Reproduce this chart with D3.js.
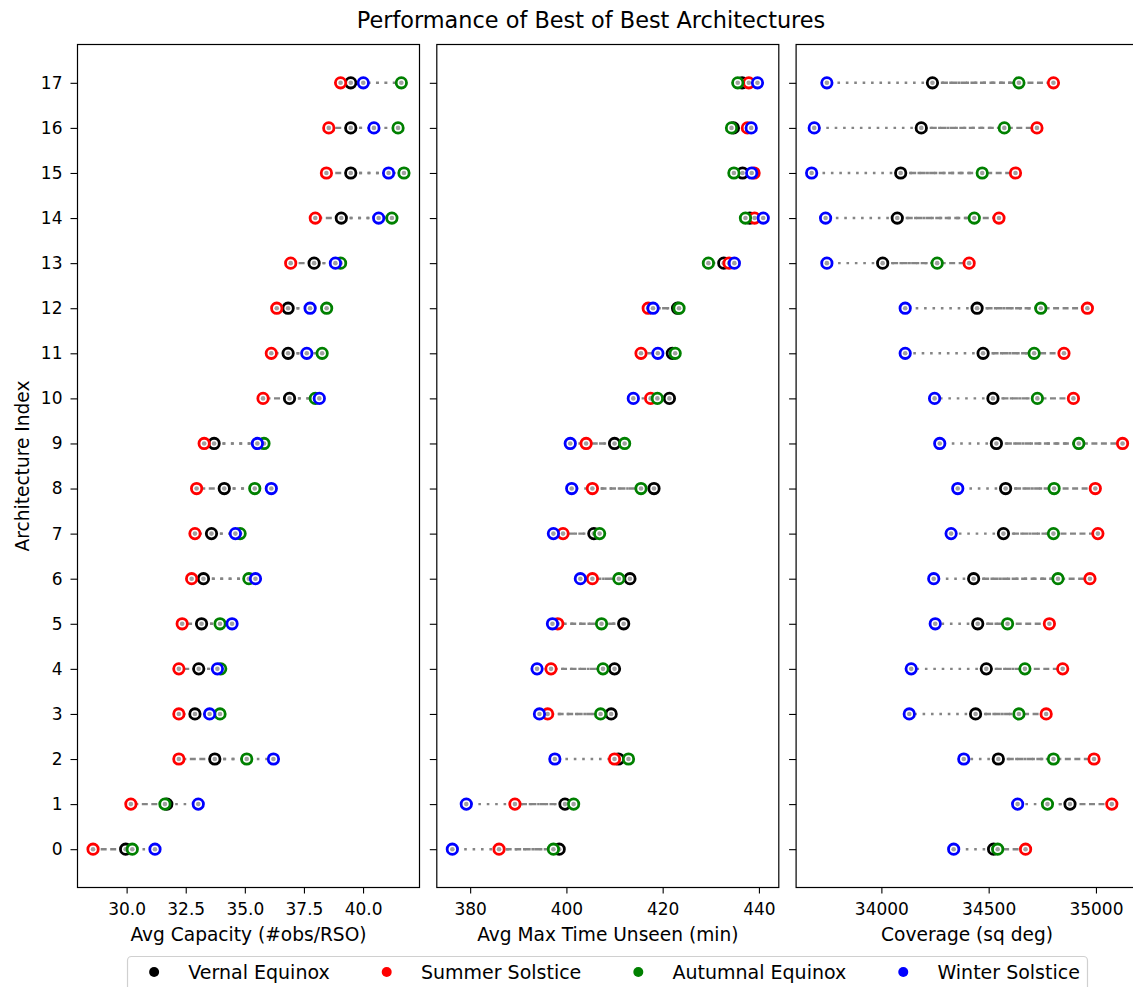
<!DOCTYPE html>
<html>
<head>
<meta charset="utf-8">
<script src="https://cdn.jsdelivr.net/npm/d3@7"></script>
<style>
  html, body { margin: 0; padding: 0; background: #fff; }
  svg { display: block; font-family: "DejaVu Sans", sans-serif; }
</style>
</head>
<body>
<svg id="chart" width="1133" height="987"></svg>
<script>
// Architecture indices (y axis)
const archIndex = d3.range(0, 18);

// Seasons and their marker colours
const seasons = ["Vernal Equinox", "Summer Solstice", "Autumnal Equinox", "Winter Solstice"];
const seasonColors = ["black", "red", "green", "blue"];

// Average capacity (#obs/RSO)
const capacityVernal = [29.96, 31.70, 33.73, 32.89, 33.05, 33.17, 33.25, 33.59, 34.13, 33.70, 36.89, 36.83, 36.83, 37.93, 39.08, 39.48, 39.48, 39.48];
const capacitySummer = [28.58, 30.18, 32.21, 32.21, 32.21, 32.35, 32.75, 32.89, 32.96, 33.28, 35.77, 36.12, 36.35, 36.94, 37.98, 38.45, 38.55, 39.05];
const capacityAutumn = [30.24, 31.62, 35.08, 33.95, 33.98, 33.95, 35.17, 34.80, 35.42, 35.81, 37.98, 38.27, 38.46, 39.05, 41.22, 41.73, 41.48, 41.62];
const capacityWinter = [31.20, 33.03, 36.21, 33.51, 33.84, 34.46, 35.45, 34.60, 36.12, 35.53, 38.15, 37.62, 37.76, 38.83, 40.66, 41.08, 40.46, 40.01];

// Average max time unseen (min)
const unseenVernal = [398.5, 399.7, 410.8, 409.3, 410.0, 411.9, 413.2, 405.7, 418.2, 410.0, 421.4, 422.0, 423.1, 432.7, 438.1, 436.6, 434.7, 436.5];
const unseenSummer = [386.0, 389.3, 410.0, 396.1, 396.8, 398.2, 405.4, 399.3, 405.4, 404.1, 417.5, 415.5, 417.0, 433.8, 439.1, 439.0, 437.6, 437.9];
const unseenAutumn = [397.3, 401.5, 412.9, 407.1, 407.6, 407.3, 410.9, 406.9, 415.5, 412.1, 418.9, 422.6, 423.4, 429.5, 437.2, 434.8, 434.3, 435.6];
const unseenWinter = [376.3, 379.2, 397.6, 394.4, 393.9, 397.1, 402.9, 397.3, 401.1, 400.8, 413.9, 419.0, 418.0, 434.9, 440.9, 438.5, 438.4, 439.7];

// Coverage (sq deg)
const coverageVernal = [34523, 34879, 34545, 34439, 34489, 34449, 34430, 34569, 34579, 34536, 34520, 34474, 34446, 34006, 34074, 34090, 34186, 34238];
const coverageSummer = [34672, 35074, 34991, 34768, 34845, 34783, 34972, 35009, 34997, 35124, 34895, 34851, 34960, 34409, 34548, 34625, 34725, 34802];
const coverageAutumn = [34542, 34774, 34802, 34641, 34669, 34588, 34823, 34802, 34805, 34920, 34727, 34712, 34743, 34260, 34433, 34470, 34573, 34641];
const coverageWinter = [34337, 34635, 34384, 34130, 34139, 34251, 34244, 34325, 34356, 34272, 34248, 34111, 34111, 33746, 33740, 33675, 33687, 33746];

// Tick values per panel
const capacityTicks = [30.0, 32.5, 35.0, 37.5, 40.0];
const unseenTicks = [380, 400, 420, 440];
const coverageTicks = [34000, 34500, 35000];
const yTicks = archIndex;

const panels = [
  { label: "Avg Capacity (#obs/RSO)", series: [capacityVernal, capacitySummer, capacityAutumn, capacityWinter], ticks: capacityTicks, fmt: d3.format(".1f") },
  { label: "Avg Max Time Unseen (min)", series: [unseenVernal, unseenSummer, unseenAutumn, unseenWinter], ticks: unseenTicks, fmt: d3.format("d") },
  { label: "Coverage (sq deg)", series: [coverageVernal, coverageSummer, coverageAutumn, coverageWinter], ticks: coverageTicks, fmt: d3.format("d") }
];

// Connector styles: vernal value linked to each other season
const links = [
  { to: 1, dash: "6,3.5" },      // summer: dashed
  { to: 2, dash: "3,5.4" },      // autumn: dotted
  { to: 3, dash: "2.6,5.8" }     // winter: dotted
];

const svg = d3.select("#chart");
const plotLeft = 77.5, plotWidth = 342, plotGap = 17.3;
const plotTop = 44.5, plotBottom = 887.5;
const tickFont = 17, labelFont = 18.6;

const y = d3.scaleLinear().domain([-0.85, 17.85]).range([plotBottom, plotTop]);

svg.append("text")
  .attr("x", 591).attr("y", 28)
  .attr("text-anchor", "middle")
  .attr("font-size", 22.4)
  .attr("fill", "#000")
  .text("Performance of Best of Best Architectures");

panels.forEach((p, pi) => {
  const x0 = plotLeft + pi * (plotWidth + plotGap);
  const all = p.series.flat();
  const [lo, hi] = d3.extent(all);
  const pad = (hi - lo) * 0.05;
  const x = d3.scaleLinear().domain([lo - pad, hi + pad]).range([x0, x0 + plotWidth]);

  const g = svg.append("g");

  // connectors
  links.forEach(l => {
    g.append("g").selectAll("line")
      .data(archIndex)
      .join("line")
      .attr("x1", i => x(p.series[0][i]))
      .attr("x2", i => x(p.series[l.to][i]))
      .attr("y1", i => y(i))
      .attr("y2", i => y(i))
      .attr("stroke", "#858585")
      .attr("stroke-width", 2.4)
      .attr("stroke-dasharray", l.dash);
  });

  // markers, one season after another
  p.series.forEach((vals, si) => {
    const mg = g.append("g");
    mg.selectAll("circle.ring")
      .data(archIndex)
      .join("circle")
      .attr("class", "ring")
      .attr("cx", i => x(vals[i]))
      .attr("cy", i => y(i))
      .attr("r", 5.2)
      .attr("fill", "#fff")
      .attr("stroke", seasonColors[si])
      .attr("stroke-width", 2.8);
    mg.selectAll("circle.core")
      .data(archIndex)
      .join("circle")
      .attr("class", "core")
      .attr("cx", i => x(vals[i]))
      .attr("cy", i => y(i))
      .attr("r", 2.3)
      .attr("fill", "#a0a0a0");
  });

  // frame
  g.append("rect")
    .attr("x", x0).attr("y", plotTop)
    .attr("width", plotWidth).attr("height", plotBottom - plotTop)
    .attr("fill", "none").attr("stroke", "#000").attr("stroke-width", 1.2);

  // x axis
  const xAxis = g.append("g")
    .attr("transform", `translate(0,${plotBottom})`)
    .call(d3.axisBottom(x).tickValues(p.ticks).tickFormat(p.fmt).tickSize(6).tickPadding(9));
  xAxis.select(".domain").remove();
  xAxis.selectAll("line").attr("stroke", "#000").attr("stroke-width", 1.1);
  xAxis.selectAll("text").attr("font-size", tickFont).attr("fill", "#000").attr("font-family", "DejaVu Sans");

  // y axis
  const yAxis = g.append("g")
    .attr("transform", `translate(${x0},0)`)
    .call(d3.axisLeft(y).tickValues(yTicks).tickFormat(pi === 0 ? d3.format("d") : () => "").tickSize(7).tickPadding(8));
  yAxis.select(".domain").remove();
  yAxis.selectAll("line").attr("stroke", "#000").attr("stroke-width", 1.1);
  yAxis.selectAll("text").attr("font-size", tickFont).attr("fill", "#000").attr("font-family", "DejaVu Sans");

  // x label
  g.append("text")
    .attr("x", x0 + plotWidth / 2).attr("y", 941)
    .attr("text-anchor", "middle")
    .attr("font-size", labelFont)
    .text(p.label);
});

// y label
svg.append("text")
  .attr("transform", `translate(28.5,${(plotTop + plotBottom) / 2}) rotate(-90)`)
  .attr("text-anchor", "middle")
  .attr("font-size", labelFont)
  .text("Architecture Index");

// legend: one row, handles and labels laid out from measured text widths
const legendFont = 19;
const legend = svg.append("g");
const box = legend.append("rect")
  .attr("y", 956.5).attr("height", 50)
  .attr("rx", 4)
  .attr("fill", "#fff").attr("stroke", "#d0d0d0").attr("stroke-width", 1.2);
const items = seasons.map((s, i) => {
  const dot = legend.append("circle").attr("cy", 972).attr("r", 5).attr("fill", seasonColors[i]);
  const txt = legend.append("text").attr("y", 978.5).attr("font-size", legendFont).text(s);
  return { dot, txt, w: txt.node().getComputedTextLength() };
});
const handleGap = 1.8 * legendFont, colGap = 3 * legendFont, border = 1.4 * legendFont;
const innerW = d3.sum(items, d => d.w) + items.length * handleGap + (items.length - 1) * colGap;
const totalW = innerW + border + 0.4 * legendFont;
const boxLeft = 607.5 - totalW / 2;
let cx = boxLeft + border;
items.forEach(d => {
  d.dot.attr("cx", cx);
  d.txt.attr("x", cx + handleGap);
  cx += handleGap + d.w + colGap;
});
box.attr("x", boxLeft).attr("width", totalW);
</script>
</body>
</html>
